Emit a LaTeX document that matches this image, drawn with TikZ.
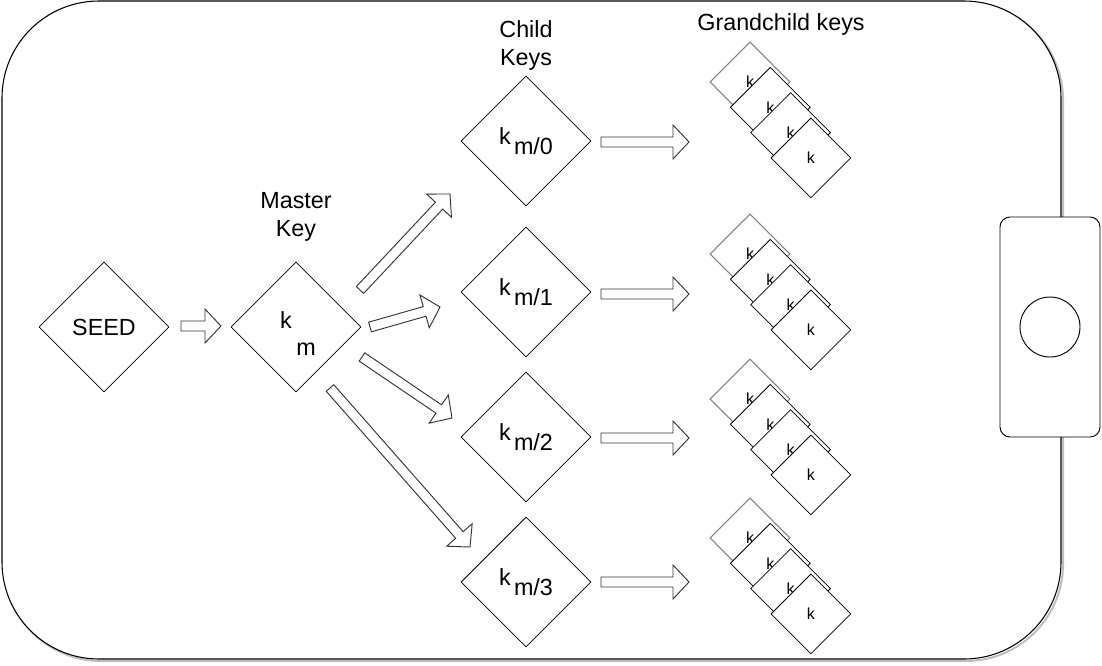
\documentclass[tikz,border=0pt]{standalone}
\usepackage{fontspec}
\setmainfont{Liberation Sans}
\usetikzlibrary{shapes.geometric, positioning, calc}
\definecolor{Trait}{RGB}{0,0,0}
\definecolor{Fleche}{RGB}{51,51,51}
\definecolor{Ombre}{RGB}{190,190,190}
\tikzset{cle/.style={diamond, draw=Trait, line width=0.6pt, fill=white, inner sep=0pt,
  minimum width=97.5pt, minimum height=97.5pt, font=\fontsize{17.5}{20}\selectfont}}
\tikzset{petit/.style={diamond, draw=Trait, line width=0.6pt, fill=white, inner sep=0pt,
  minimum width=60pt, minimum height=60pt, font=\fontsize{12}{14}\selectfont}}
\tikzset{lettre/.style={inner sep=0pt, font=\fontsize{17.5}{20}\selectfont}}
\tikzset{titre/.style={align=center, inner sep=0pt, font=\fontsize{17.5}{21}\selectfont}}
\tikzset{bloc/.style={draw=Fleche, line width=0.7pt, fill=white, line join=miter}}
\newcommand{\fleche}[2]{%
  \coordinate (fb) at ($(#2)!12pt!(#1)$);
  \draw[bloc] ($(#1)!3.75pt!90:(#2)$) -- ($(fb)!3.75pt!-90:(#1)$)
    -- ($(fb)!12.75pt!-90:(#1)$) -- (#2) -- ($(fb)!12.75pt!90:(#1)$)
    -- ($(fb)!3.75pt!90:(#1)$) -- ($(#1)!3.75pt!-90:(#2)$) -- cycle;}

\begin{document}
\begin{tikzpicture}[x=0.75pt, y=-0.75pt]
\useasboundingbox (0,0) rectangle (1102,665);
\draw[Ombre, line width=1.5pt, rounded corners=72.75pt] (4,3) rectangle (1063,661);
\draw[Trait, line width=0.8pt, fill=white, rounded corners=72.75pt] (2,1) rectangle (1061,659);
\node[draw=Trait, line width=0.7pt, fill=white, rounded corners=7.5pt,
  minimum width=75pt, minimum height=165pt] (bouton) at (1050,327) {};
\node[circle, draw=Trait, line width=0.7pt, minimum size=45pt] (capteur) at (1050,327) {};

\node[cle] (seed) at (104,327) {SEED};
\node[cle] (maitre) at (296,327) {};
\node[lettre] (km) at (286,320) {k};
\node[lettre] (mm) at (306,349) {m};
\node[titre] (lmaitre) at (296,217) {Master\\Key};
\node[titre] (lenfant) at (526,45) {Child\\Keys};
\node[titre] (lpetit) at (781,24) {Grandchild keys};

\foreach \n/\y in {0/141,1/292,2/437,3/582}
  \node[cle] (enfant\n) at (526,\y) {k\hspace{2.5pt}\raisebox{-8pt}{m/\n}};

\foreach \j/\y in {0/82,1/254,2/399,3/538}{
  \node[petit, draw=gray, line width=0.8pt] (pc\j-0) at (750,\y) {k};
  \foreach \i in {1,2,3}
    \node[petit] (pc\j-\i) at ({750+20.3*\i},{\y+25.3*\i}) {k};
}

\coordinate (s0) at (181,326); \coordinate (t0) at (221,326);
\coordinate (s1) at (360,290); \coordinate (t1) at (450,194);
\coordinate (s2) at (370,327); \coordinate (t2) at (440,307);
\coordinate (s3) at (362,357); \coordinate (t3) at (452,418);
\coordinate (s4) at (330,388); \coordinate (t4) at (470,547);
\fleche{s0}{t0} \fleche{s1}{t1} \fleche{s2}{t2} \fleche{s3}{t3} \fleche{s4}{t4}
\foreach \n/\y in {0/142,1/294,2/438,3/582}{
  \coordinate (h\n) at (601,\y); \coordinate (p\n) at (689,\y);
  \fleche{h\n}{p\n}
}
\end{tikzpicture}
\end{document}
